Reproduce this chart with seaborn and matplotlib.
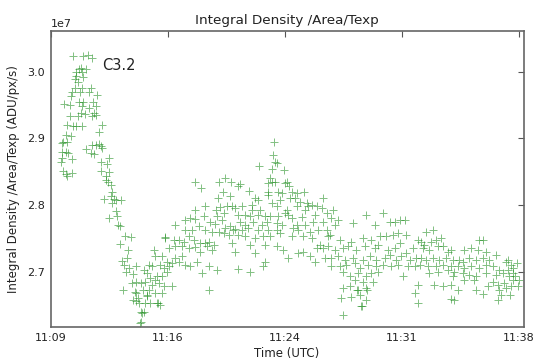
import numpy as np
import pandas as pd
import matplotlib
matplotlib.use("Agg")
import matplotlib.pyplot as plt
import seaborn as sns

# Minutes after 11:09 UTC and integral density (units of 1e7 ADU/px/s)
t_peak = [1.39, 2.01, 2.32, 2.59, 1.87, 1.77, 2.18, 1.60, 1.93, 1.56,
          2.03, 1.52, 1.72, 1.52, 1.97, 2.49, 1.35, 1.81, 2.39, 2.90,
          1.25, 0.84, 1.19, 1.77, 2.03, 2.63, 1.97, 2.39, 2.84, 1.87,
          2.14, 2.70, 2.80, 2.59, 1.19, 1.72, 1.04, 1.41, 1.60, 1.97,
          3.21, 3.01, 0.94, 1.25, 0.77, 1.04, 0.69, 2.59, 2.80, 3.01,
          3.11, 2.18, 2.53, 2.70, 3.21, 0.69, 0.94, 1.10, 0.73, 0.63,
          1.31, 0.77, 0.94, 1.31, 1.04, 3.62, 3.11, 3.52, 3.11, 3.62,
          3.46, 3.58, 3.73, 3.42, 3.83, 3.73, 3.31, 3.93, 4.04, 4.35,
          3.83, 4.04, 4.14, 3.62, 4.18, 4.29, 4.62, 4.97, 4.29, 4.82,
          4.45, 4.76, 4.55, 4.86, 4.70, 5.32, 5.11, 5.03, 5.32, 5.59,
          4.49, 5.24, 5.32, 5.48, 5.59, 5.59,
          5.55, 5.65, 5.11, 6.16, 6.66, 7.09, 5.30, 5.45, 5.75, 6.00]
d_peak = [3.023, 3.024, 3.025, 3.020, 3.006, 3.004, 3.004, 3.000, 2.999, 2.993,
          2.992, 2.989, 2.985, 2.975, 2.976, 2.976, 2.970, 2.969, 2.970, 2.965,
          2.963, 2.951, 2.950, 2.955, 2.954, 2.954, 2.948, 2.946, 2.948, 2.938,
          2.936, 2.938, 2.935, 2.934, 2.933, 2.933, 2.920, 2.918, 2.919, 2.919,
          2.920, 2.909, 2.905, 2.903, 2.895, 2.894, 2.893, 2.890, 2.890, 2.891,
          2.888, 2.884, 2.878, 2.877, 2.885, 2.880, 2.879, 2.878, 2.870, 2.864,
          2.869, 2.851, 2.847, 2.848, 2.843, 2.871, 2.864, 2.861, 2.851, 2.849,
          2.843, 2.835, 2.830, 2.838, 2.820, 2.813, 2.809, 2.809, 2.808, 2.808,
          2.803, 2.791, 2.783, 2.780, 2.770, 2.768, 2.754, 2.752, 2.742, 2.733,
          2.716, 2.720, 2.710, 2.705, 2.700, 2.709, 2.696, 2.683, 2.684, 2.683,
          2.673, 2.670, 2.656, 2.653, 2.640, 2.624,
          2.623, 2.638, 2.658, 2.653, 2.653, 2.751, 2.668, 2.660, 2.672, 2.665]

t_recovery = [8.93, 9.34, 10.46, 10.83, 11.20, 10.67, 10.38, 11.14, 8.97, 9.59,
              10.25, 10.52, 10.94, 11.25, 10.73, 10.32, 7.74, 8.35, 8.66, 8.97,
              9.49, 9.90, 10.21, 10.63, 10.83, 11.14, 8.35, 8.77, 9.18, 9.59,
              10.01, 10.42, 10.73, 11.04, 11.29, 7.12, 7.63, 7.94, 8.25, 8.56,
              8.87, 9.28, 9.59, 9.80, 10.11, 10.01, 11.24, 7.32, 7.74, 8.15,
              8.56, 8.97, 9.28, 9.70, 6.39, 6.50, 6.91, 8.15, 7.74, 7.22,
              7.53, 7.94, 8.35, 8.66, 6.08, 6.29, 6.81, 7.01, 7.32, 9.08,
              9.80, 10.31, 9.39, 5.77, 5.98, 6.19, 6.50, 6.60, 6.91, 7.22,
              5.88, 6.29, 6.70, 7.01, 7.53, 9.80, 6.08, 6.50, 6.91, 5.98,
              6.60, 6.81, 5.88, 5.77]
d_recovery = [2.835, 2.826, 2.834, 2.841, 2.834, 2.819, 2.810, 2.814, 2.793, 2.798,
              2.793, 2.797, 2.799, 2.799, 2.788, 2.783, 2.770, 2.778, 2.780, 2.779,
              2.784, 2.775, 2.771, 2.778, 2.765, 2.768, 2.763, 2.763, 2.768, 2.763,
              2.760, 2.760, 2.758, 2.755, 2.763, 2.752, 2.748, 2.748, 2.745, 2.753,
              2.748, 2.743, 2.743, 2.745, 2.740, 2.733, 2.743, 2.735, 2.738, 2.738,
              2.735, 2.737, 2.730, 2.738, 2.732, 2.723, 2.724, 2.723, 2.720, 2.715,
              2.713, 2.715, 2.710, 2.708, 2.710, 2.708, 2.710, 2.705, 2.708, 2.715,
              2.709, 2.703, 2.698, 2.703, 2.698, 2.690, 2.688, 2.693, 2.693, 2.699,
              2.685, 2.680, 2.683, 2.678, 2.679, 2.673, 2.673, 2.668, 2.668, 2.663,
              2.653, 2.650, 2.653, 2.640]

t_bump = [13.87, 13.81, 13.91, 14.01, 13.75, 12.92, 14.49, 13.60, 13.70, 13.50,
          13.91, 14.53, 14.63, 14.78, 11.74, 11.64, 12.30, 13.50, 14.12, 14.94,
          15.25, 15.73, 14.32, 12.67, 12.88, 13.50, 14.22, 14.84, 15.15, 15.46,
          15.88, 16.18, 16.91, 11.43, 11.84, 12.46, 12.46, 12.98, 13.70, 14.01,
          14.63, 15.25, 15.76, 15.97, 16.49, 16.80, 11.64, 12.05, 12.36, 12.88,
          13.29, 13.60, 14.12, 14.53, 14.74, 14.94, 15.56, 16.39, 17.11, 11.74,
          12.05, 12.57, 13.08, 13.39, 14.01, 14.32, 15.25, 15.76, 16.28, 16.90,
          11.43, 11.84, 12.26, 12.88, 13.50, 14.01, 15.05, 15.36, 16.08, 16.60,
          17.11, 11.64, 12.05, 12.67, 13.19, 13.60, 14.22, 14.94, 15.66, 16.18,
          17.21, 12.36, 13.29, 14.01, 14.43, 16.49, 16.90, 16.70, 11.43, 12.67,
          15.36, 15.66, 16.08, 14.74, 16.39, 17.01, 13.29, 13.19, 11.64, 12.36]
d_bump = [2.894, 2.875, 2.865, 2.863, 2.854, 2.858, 2.852, 2.840, 2.835, 2.833,
          2.834, 2.833, 2.835, 2.828, 2.832, 2.828, 2.821, 2.820, 2.820, 2.819,
          2.818, 2.819, 2.818, 2.810, 2.808, 2.815, 2.808, 2.810, 2.810, 2.805,
          2.803, 2.800, 2.810, 2.795, 2.798, 2.800, 2.793, 2.793, 2.803, 2.798,
          2.793, 2.798, 2.793, 2.798, 2.798, 2.795, 2.785, 2.785, 2.783, 2.785,
          2.784, 2.783, 2.783, 2.788, 2.785, 2.780, 2.782, 2.785, 2.788, 2.775,
          2.770, 2.775, 2.770, 2.775, 2.773, 2.770, 2.770, 2.770, 2.775, 2.775,
          2.764, 2.763, 2.765, 2.763, 2.763, 2.763, 2.765, 2.763, 2.760, 2.763,
          2.763, 2.755, 2.753, 2.750, 2.753, 2.753, 2.758, 2.753, 2.753, 2.750,
          2.753, 2.740, 2.740, 2.738, 2.733, 2.735, 2.735, 2.740, 2.730, 2.728,
          2.728, 2.730, 2.724, 2.720, 2.715, 2.720, 2.715, 2.708, 2.704, 2.700]

t_decay = [17.50, 17.40, 17.81, 17.61, 19.57, 20.59, 18.74, 20.08, 21.01, 21.32,
           21.63, 21.94, 17.30, 17.92, 18.64, 19.36, 19.87, 20.39, 20.80, 21.21,
           21.53, 22.05, 22.77, 17.19, 17.61, 18.12, 18.43, 18.95, 19.47, 20.08,
           20.29, 20.91, 21.32, 21.63, 22.05, 22.46, 17.40, 17.81, 18.23, 18.74,
           19.36, 19.77, 20.19, 20.70, 21.01, 21.43, 21.74, 22.25, 22.67, 17.40,
           17.92, 18.33, 18.85, 19.16, 19.67, 20.19, 20.60, 21.12, 21.53, 22.15,
           22.56, 22.87, 18.12, 18.53, 19.05, 19.57, 19.88, 20.29, 21.84, 18.85,
           19.36, 19.98, 18.12, 18.53, 19.05, 19.57, 22.77, 22.56, 18.02, 18.64,
           19.16, 19.57, 19.26, 18.12, 22.77, 18.97, 19.28, 19.63]
d_decay = [2.793, 2.780, 2.778, 2.770, 2.785, 2.788, 2.773, 2.770, 2.774, 2.775,
           2.777, 2.778, 2.755, 2.748, 2.745, 2.750, 2.748, 2.753, 2.753, 2.755,
           2.758, 2.755, 2.748, 2.738, 2.733, 2.735, 2.738, 2.733, 2.738, 2.735,
           2.740, 2.733, 2.735, 2.743, 2.728, 2.735, 2.720, 2.723, 2.718, 2.720,
           2.718, 2.723, 2.718, 2.720, 2.725, 2.718, 2.723, 2.718, 2.720, 2.708,
           2.708, 2.710, 2.713, 2.705, 2.710, 2.708, 2.710, 2.708, 2.710, 2.708,
           2.708, 2.710, 2.700, 2.693, 2.698, 2.693, 2.698, 2.700, 2.693, 2.688,
           2.685, 2.685, 2.675, 2.678, 2.673, 2.675, 2.680, 2.668, 2.660, 2.662,
           2.665, 2.658, 2.648, 2.635, 2.653, 2.673, 2.648, 2.672]

t_tail = [23.26, 23.68, 22.96, 23.16, 23.57, 23.88, 24.20, 23.06, 23.47, 23.99,
          24.30, 24.61, 24.82, 25.64, 26.06, 26.57, 26.78, 26.47, 26.98, 22.96,
          23.26, 23.68, 24.09, 24.50, 24.92, 25.33, 25.54, 25.95, 26.36, 26.78,
          27.19, 27.60, 28.22, 28.53, 23.37, 23.88, 24.30, 24.81, 25.22, 25.64,
          26.05, 26.57, 26.98, 27.40, 27.81, 28.33, 28.63, 23.47, 23.99, 24.61,
          25.02, 25.54, 25.96, 26.36, 26.98, 27.60, 28.02, 28.43, 28.63, 24.92,
          25.64, 26.26, 27.40, 27.71, 28.12, 28.53, 23.78, 24.30, 24.81, 25.23,
          26.36, 27.09, 26.78, 27.81, 27.91, 28.22, 24.81, 25.02, 27.71,
          28.98, 28.67, 28.78, 28.47, 28.89, 28.35, 29.05]
d_tail = [2.760, 2.763, 2.745, 2.740, 2.745, 2.748, 2.750, 2.735, 2.733, 2.738,
          2.738, 2.730, 2.733, 2.733, 2.735, 2.748, 2.747, 2.733, 2.730, 2.720,
          2.718, 2.720, 2.718, 2.720, 2.718, 2.718, 2.715, 2.720, 2.718, 2.720,
          2.718, 2.725, 2.715, 2.710, 2.708, 2.708, 2.710, 2.708, 2.708, 2.705,
          2.708, 2.705, 2.710, 2.708, 2.703, 2.703, 2.705, 2.698, 2.700, 2.703,
          2.700, 2.698, 2.695, 2.693, 2.698, 2.695, 2.698, 2.693, 2.698, 2.693,
          2.688, 2.688, 2.685, 2.680, 2.683, 2.678, 2.680, 2.678, 2.680, 2.673,
          2.673, 2.678, 2.667, 2.673, 2.665, 2.675, 2.659, 2.657, 2.658,
          2.678, 2.688, 2.693, 2.665, 2.713, 2.718, 2.688]

tick_minutes = [0, 7.25, 14.5, 21.75, 29]
tick_labels = ["11:09", "11:16", "11:24", "11:31", "11:38"]
density_ticks = [2.7, 2.8, 2.9, 3.0]

minutes = t_peak + t_recovery + t_bump + t_decay + t_tail
density = d_peak + d_recovery + d_bump + d_decay + d_tail
df = pd.DataFrame({"minutes": minutes, "density": np.array(density) * 1e7})

sns.set_style("white")
plt.rcParams["font.family"] = ["DejaVu Sans"]
plt.rcParams["xtick.direction"] = "in"
plt.rcParams["ytick.direction"] = "in"

fig = plt.figure(figsize=(5.35, 3.63), dpi=100)
ax = fig.add_axes([0.0944, 0.0978, 0.8845, 0.8176])

sns.scatterplot(data=df, x="minutes", y="density", marker="+", color="#1a8c1a",
                s=30, linewidth=0.7, alpha=0.55, ax=ax, legend=False)

ax.set_xlim(0, 29.32)
ax.set_ylim(2.6163e7, 3.0615e7)
ax.set_xticks(tick_minutes)
ax.set_xticklabels(tick_labels)
ax.set_yticks([v * 1e7 for v in density_ticks])
ax.tick_params(axis="both", which="both", top=True, right=True, length=4,
               width=0.8, color="#555555", labelsize=8, pad=4,
               labelcolor="#222222")
for sp in ax.spines.values():
    sp.set_color("#666666")
    sp.set_linewidth(1.2)
ax.yaxis.get_offset_text().set_fontsize(8)
ax.yaxis.get_offset_text().set_color("#222222")

ax.set_title("Integral Density /Area/Texp", fontsize=9.7, pad=5, color="#222222")
ax.set_xlabel("Time (UTC)", fontsize=8.5, labelpad=3, color="#222222")
ax.set_ylabel("Integral Density /Area/Texp (ADU/px/s)", fontsize=8.5,
              labelpad=5, color="#222222")
ax.text(0.109, 0.882, "C3.2", transform=ax.transAxes, fontsize=10.5,
        ha="left", va="center", color="#222222")

fig.savefig("out.png", dpi=100)
